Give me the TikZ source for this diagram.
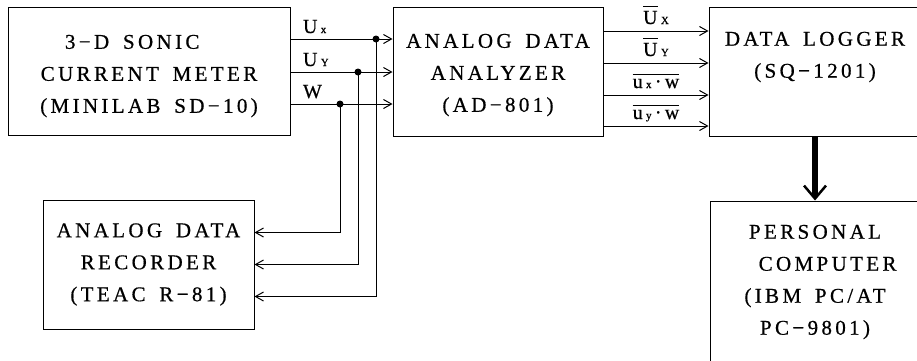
\documentclass[tikz,border=0pt]{standalone}
\usepackage{fontspec}
\setmainfont{Liberation Serif}
\newfontfamily\blockfont[LetterSpace=16,WordSpace=1.6,FakeBold=0.6]{Liberation Serif}
\newfontfamily\sigfont[FakeBold=0.6]{Liberation Serif}
\usetikzlibrary{arrows.meta,positioning}
\newcommand{\sub}[1]{{\fontsize{11}{11}\selectfont #1}}
\newcommand{\barred}[1]{\leavevmode\vbox{\hrule height 1.2pt\kern4pt\hbox{#1}}}

\begin{document}
\begin{tikzpicture}[x=1pt,y=-1pt,line width=1pt,
    every node/.style={inner sep=0pt},
    block/.style={draw,align=center,font={\blockfont\fontsize{21}{32}\selectfont}},
    sig/.style={font={\sigfont\fontsize{20}{20}\selectfont}},
    jdot/.style={circle,fill,minimum size=7pt},
    >={Straight Barb[length=8pt,width=9pt]}]
  \useasboundingbox (0,0) rectangle (917,360);
  % blocks
  \node[block,minimum width=282pt,minimum height=128pt] (meter) at (149,71)
    {\rule{0pt}{24pt}3−D SONIC\hspace*{1.6em}\\CURRENT METER\\(MINILAB SD−10)};
  \node[block,minimum width=210pt,minimum height=129pt] (analyzer) at (498,71.5)
    {\rule{0pt}{21pt}ANALOG DATA\\ANALYZER\\(AD−801)};
  \node[block,minimum width=212pt,minimum height=129pt] (logger) at (815,71.5)
    {\rule{0pt}{22pt}DATA LOGGER\\(SQ−1201)\\\strut};
  \node[block,minimum width=210pt,minimum height=162pt] (pc) at (815,282)
    {PERSONAL\\\hspace*{1.2em}COMPUTER\\(IBM PC/AT\\PC−9801)};
  \node[block,minimum width=211pt,minimum height=129pt] (recorder) at (148.5,264.5)
    {ANALOG DATA\\RECORDER\\(TEAC R−81)};
  % junctions
  \node[jdot] (jux) at (376,39) {};
  \node[jdot] (juy) at (358,72) {};
  \node[jdot] (jw) at (340,104) {};
  % meter -> analyzer
  \draw[->] (meter.east |- jux) -- node[sig,pos=0,anchor=base west,xshift=12pt,yshift=6pt] (lux) {U\,\sub{x}} (analyzer.west |- jux);
  \draw[->] (meter.east |- juy) -- node[sig,pos=0,anchor=base west,xshift=12pt,yshift=6pt] (luy) {U\,\sub{Y}} (analyzer.west |- juy);
  \draw[->] (meter.east |- jw) -- node[sig,pos=0,anchor=base west,xshift=12pt,yshift=6pt] (lw) {W} (analyzer.west |- jw);
  % branches to recorder
  \draw[->] (jw.center) |- ([yshift=32pt]recorder.east);
  \draw[->] (juy.center) |- (recorder.east);
  \draw[->] (jux.center) |- ([yshift=-32pt]recorder.east);
  % analyzer -> logger
  \foreach \dy/\txt [count=\i] in {40.5/{\barred{U}\,\sub{X}}, 8.5/{\barred{U}\,\sub{Y}},
      -23.5/{\barred{u\,\sub{x}\,·\,w}}, -54.5/{\barred{u\,\sub{y}\,·\,w}}}
    \draw[->] ([yshift=\dy pt]analyzer.east) -- node[sig,anchor=base,yshift=7pt] (out\i) {\txt}
      ([yshift=\dy pt]analyzer.east -| logger.west);
  % logger -> pc
  \draw[line width=6.5pt,-{Straight Barb[length=13pt,width=22pt,line width=2.5pt]}] (logger.south) -- (pc.north);
\end{tikzpicture}
\end{document}
